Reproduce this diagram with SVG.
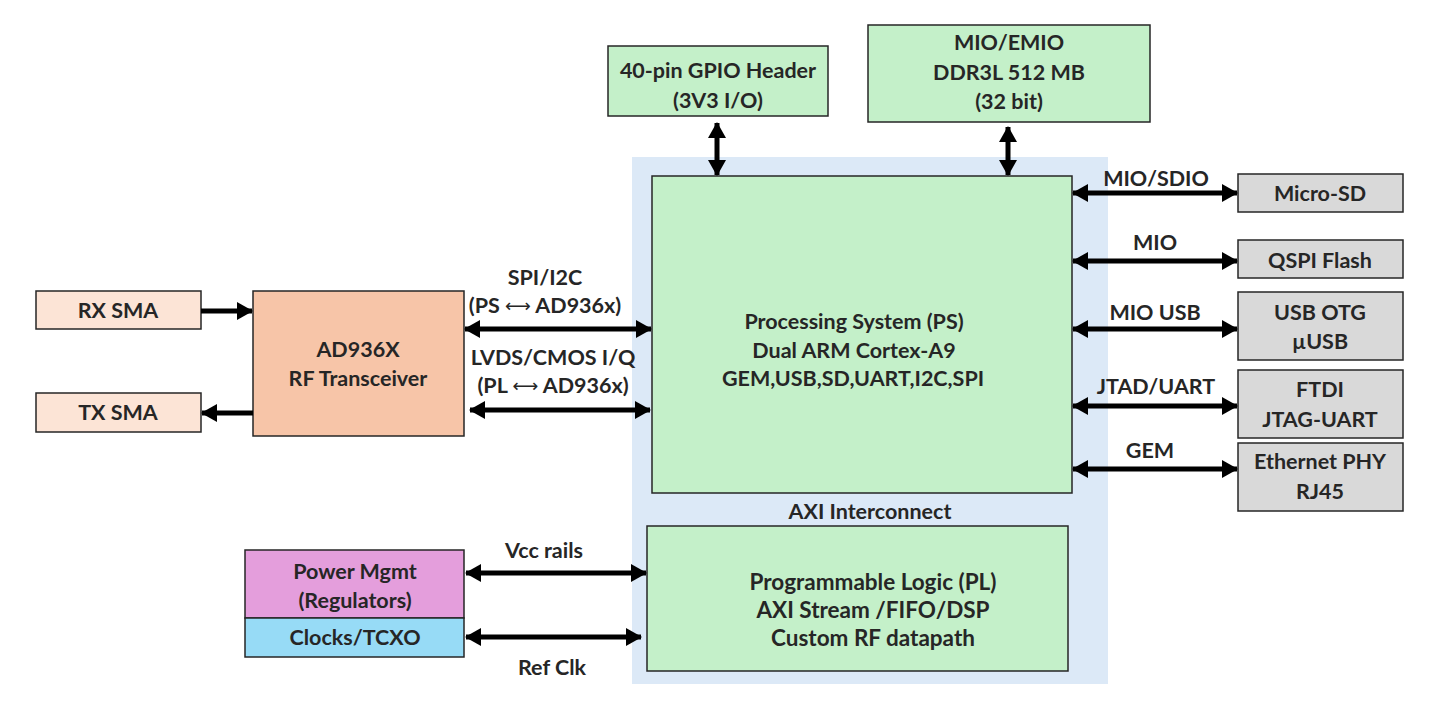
<svg xmlns="http://www.w3.org/2000/svg" width="1442" height="727" viewBox="0 0 1442 727">
<style>
text{font-family:Lato,"Open Sans","Liberation Sans",sans-serif;font-weight:bold;font-size:21.5px;fill:#262626;text-anchor:middle;dominant-baseline:central}
.box{stroke:#262626;stroke-width:1.5}
.g{fill:#c4f0c9}.p{fill:#f7c5a8}.pl{fill:#fce4d6}.gr{fill:#d9d9d9}.m{fill:#e49edc}.c{fill:#97dbf6}
.w{stroke:#000;stroke-width:5;fill:none}
.ar{font-family:"DejaVu Sans",sans-serif;font-weight:normal;font-size:18px}
.big{font-size:22.5px}
</style>
<defs>
<marker id="ah" viewBox="0 0 16 18" refX="15" refY="9" markerWidth="16" markerHeight="18" markerUnits="userSpaceOnUse" orient="auto-start-reverse">
<path d="M0,0 L16,9 L0,18 z" fill="#000"/>
</marker>
</defs>
<rect width="1442" height="727" fill="#fff"/>
<g id="axi">
<rect x="632" y="157" width="476" height="527" fill="#dce9f7"/>
<text x="870" y="511">AXI Interconnect</text>
</g>
<g id="gpio"><rect class="box g" x="608" y="46" width="220" height="70"/><text x="718" y="70">40-pin GPIO Header</text><text x="718" y="100">(3V3 I/O)</text></g>
<g id="ddr"><rect class="box g" x="868" y="25" width="282" height="97"/><text x="1009" y="42">MIO/EMIO</text><text x="1009" y="72">DDR3L 512 MB</text><text x="1009" y="101">(32 bit)</text></g>
<g id="ps"><rect class="box g" x="652" y="176" width="420" height="317"/><text x="854" y="321">Processing System (PS)</text><text x="854" y="350">Dual ARM Cortex-A9</text><text x="853" y="378">GEM,USB,SD,UART,I2C,SPI</text></g>
<g id="pl"><rect class="box g" x="647" y="526" width="421" height="145"/><text class="big" x="873" y="581">Programmable Logic (PL)</text><text class="big" x="873" y="609">AXI Stream /FIFO/DSP</text><text class="big" x="873" y="637">Custom RF datapath</text></g>
<g id="rx"><rect class="box pl" x="36" y="291" width="165" height="38"/><text x="118" y="310">RX SMA</text></g>
<g id="tx"><rect class="box pl" x="36" y="393" width="165" height="39"/><text x="118" y="412">TX SMA</text></g>
<g id="ad"><rect class="box p" x="253" y="291" width="211" height="145"/><text x="358" y="349">AD936X</text><text x="358" y="378">RF Transceiver</text></g>
<g id="pwr"><rect class="box m" x="245" y="550" width="219" height="68"/><text x="355" y="571">Power Mgmt</text><text x="355" y="600">(Regulators)</text></g>
<g id="clk"><rect class="box c" x="245" y="618" width="219" height="39"/><text x="355" y="637">Clocks/TCXO</text></g>
<g id="sd"><rect class="box gr" x="1238" y="174" width="165" height="38"/><text x="1320" y="193">Micro-SD</text></g>
<g id="qspi"><rect class="box gr" x="1238" y="240" width="165" height="38"/><text x="1320" y="260">QSPI Flash</text></g>
<g id="usb"><rect class="box gr" x="1238" y="292" width="165" height="68"/><text x="1320" y="312">USB OTG</text><text x="1320" y="341">µUSB</text></g>
<g id="ftdi"><rect class="box gr" x="1238" y="370" width="165" height="68"/><text x="1320" y="389">FTDI</text><text x="1320" y="419">JTAG-UART</text></g>
<g id="eth"><rect class="box gr" x="1238" y="443" width="165" height="68"/><text x="1320" y="461">Ethernet PHY</text><text x="1320" y="491">RJ45</text></g>
<g id="connectors">
<line class="w" x1="717" y1="123" x2="717" y2="175" marker-start="url(#ah)" marker-end="url(#ah)"/>
<line class="w" x1="1008" y1="127" x2="1008" y2="175" marker-start="url(#ah)" marker-end="url(#ah)"/>
<line class="w" x1="201" y1="311" x2="252" y2="311" marker-end="url(#ah)"/>
<line class="w" x1="253" y1="413" x2="202" y2="413" marker-end="url(#ah)"/>
<line class="w" x1="465" y1="329" x2="651" y2="329" marker-start="url(#ah)" marker-end="url(#ah)"/>
<line class="w" x1="470" y1="410" x2="650" y2="410" marker-start="url(#ah)" marker-end="url(#ah)"/>
<line class="w" x1="466" y1="573" x2="646" y2="573" marker-start="url(#ah)" marker-end="url(#ah)"/>
<line class="w" x1="466" y1="637" x2="641" y2="637" marker-start="url(#ah)" marker-end="url(#ah)"/>
<line class="w" x1="1073" y1="193" x2="1237" y2="193" marker-start="url(#ah)" marker-end="url(#ah)"/>
<line class="w" x1="1073" y1="261" x2="1237" y2="261" marker-start="url(#ah)" marker-end="url(#ah)"/>
<line class="w" x1="1073" y1="329" x2="1237" y2="329" marker-start="url(#ah)" marker-end="url(#ah)"/>
<line class="w" x1="1073" y1="406" x2="1237" y2="406" marker-start="url(#ah)" marker-end="url(#ah)"/>
<line class="w" x1="1073" y1="469" x2="1237" y2="469" marker-start="url(#ah)" marker-end="url(#ah)"/>
<text x="545" y="277">SPI/I2C</text>
<text x="545" y="305">(PS <tspan class="ar">⟷</tspan> AD936x)</text>
<text x="553" y="357">LVDS/CMOS I/Q</text>
<text x="553" y="385">(PL <tspan class="ar">⟷</tspan> AD936x)</text>
<text x="544" y="550">Vcc rails</text>
<text x="552" y="667">Ref Clk</text>
<text x="1156" y="178">MIO/SDIO</text>
<text x="1155" y="242">MIO</text>
<text x="1155" y="312">MIO USB</text>
<text x="1156" y="386">JTAD/UART</text>
<text x="1150" y="450">GEM</text>
</g>
</svg>
